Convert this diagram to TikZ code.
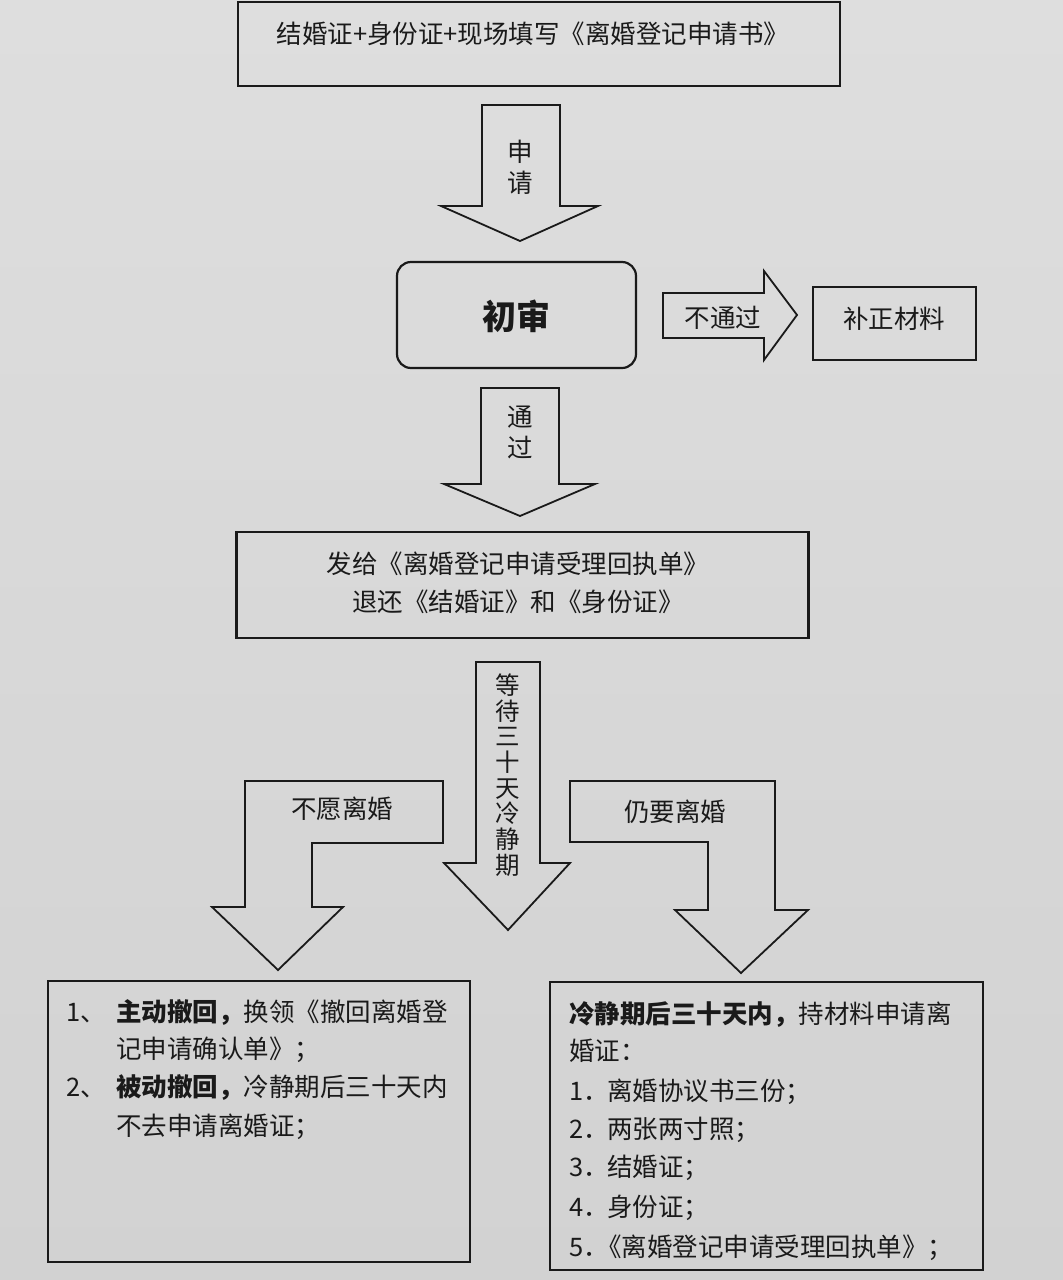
\documentclass[tikz,border=0pt]{standalone}
\usepackage{fontspec}
\newfontfamily\cjk{Noto Sans CJK SC}
\definecolor{ink}{HTML}{1A1A1A}
\definecolor{papertop}{HTML}{DEDEDE}
\definecolor{paperbot}{HTML}{D2D2D2}
\begin{document}
\begin{tikzpicture}[x=1pt,y=-1pt,
  box/.style={draw=ink,line width=2.2pt,inner sep=0pt},
  blk/.style={draw=ink,line width=1.8pt,line join=miter},
  txt/.style={font=\cjk\fontsize{25.5}{30}\selectfont,text=ink,inner sep=0pt,text height=21pt,text depth=4pt},
  vtxt/.style={font=\cjk\fontsize{25.5}{31}\selectfont,text=ink,align=center,inner sep=0pt},
]
\shade[top color=papertop,bottom color=paperbot] (0,0) rectangle (1063,1280);
\useasboundingbox (0,0) rectangle (1063,1280);

% boxes
\node[box,minimum width=602pt,minimum height=84pt] (top) at (539,44) {};
\node[box,rounded corners=14pt,minimum width=239pt,minimum height=106pt] (chushen) at (516.5,315) {};
\node[box,minimum width=163pt,minimum height=73pt] (buzheng) at (894.5,323.5) {};
\node[box,minimum width=572pt,minimum height=106pt] (fagei) at (522.5,585) {};
\node[box,minimum width=422pt,minimum height=281pt] (left) at (259,1121.5) {};
\node[box,minimum width=433pt,minimum height=288pt] (right) at (766.5,1126) {};

% block arrows
\draw[blk] (482,105) -- (560,105) -- (560,206) -- (598,206) -- (520,241) -- (441,206) -- (482,206) -- cycle;
\draw[blk] (663,293) -- (764,293) -- (764,271) -- (797,315) -- (764,360) -- (764,338) -- (663,338) -- cycle;
\draw[blk] (481,388) -- (559,388) -- (559,484) -- (595,484) -- (520,516) -- (444,484) -- (481,484) -- cycle;
\draw[blk] (476,662) -- (540,662) -- (540,863) -- (570,863) -- (508,930) -- (444,863) -- (476,863) -- cycle;
\draw[blk] (245,781) -- (443,781) -- (443,843) -- (312,843) -- (312,907) -- (343,907) -- (278,970) -- (212,907) -- (245,907) -- cycle;
\draw[blk] (570,781) -- (775,781) -- (775,910) -- (808,910) -- (741,973) -- (675,910) -- (708,910) -- (708,842) -- (570,842) -- cycle;

% texts
\node[txt] (ttop) at (533,35) {结婚证+身份证+现场填写《离婚登记申请书》};
\node[vtxt] (tshen) at (520,167) {申\\请};
\node[txt,font=\cjk\bfseries\fontsize{34}{40}\selectfont,text height=28pt,text depth=5pt] (tchu) at (516,318) {初审};
\node[txt] (tbu) at (723,319) {不通过};
\node[txt] (tbz) at (894,320) {补正材料};
\node[vtxt] (ttg) at (520,432) {通\\过};
\node[txt] (tf1) at (518,565) {发给《离婚登记申请受理回执单》};
\node[txt] (tf2) at (518,603) {退还《结婚证》和《身份证》};
\node[vtxt,font=\cjk\fontsize{24.5}{25.7}\selectfont] (tdeng) at (508,775) {等\\待\\三\\十\\天\\冷\\静\\期};
\node[txt] (tby) at (342,810) {不愿离婚};
\node[txt] (try) at (675,813) {仍要离婚};

% left box
\node[txt,anchor=west] (ln1) at (66,1013) {1、};
\node[txt,anchor=west] (l1) at (116,1013) {{\bfseries 主动撤回，}换领《撤回离婚登};
\node[txt,anchor=west] (l2) at (116,1050) {记申请确认单》；};
\node[txt,anchor=west] (ln2) at (66,1088) {2、};
\node[txt,anchor=west] (l3) at (116,1088) {{\bfseries 被动撤回，}冷静期后三十天内};
\node[txt,anchor=west] (l4) at (116,1127) {不去申请离婚证；};

% right box
\node[txt,anchor=west] (r1) at (569,1015) {{\bfseries 冷静期后三十天内，}持材料申请离};
\node[txt,anchor=west] (r2) at (569,1052) {婚证：};
\node[txt,anchor=west] (rn1) at (569,1092) {1．};
\node[txt,anchor=west] (r3) at (607,1092) {离婚协议书三份；};
\node[txt,anchor=west] (rn2) at (569,1130) {2．};
\node[txt,anchor=west] (r4) at (607,1130) {两张两寸照；};
\node[txt,anchor=west] (rn3) at (569,1168) {3．};
\node[txt,anchor=west] (r5) at (607,1168) {结婚证；};
\node[txt,anchor=west] (rn4) at (569,1208) {4．};
\node[txt,anchor=west] (r6) at (607,1208) {身份证；};
\node[txt,anchor=west] (rn5) at (569,1248) {5．};
\node[txt,anchor=west] (r7) at (596,1248) {《离婚登记申请受理回执单》；};
\end{tikzpicture}
\end{document}
